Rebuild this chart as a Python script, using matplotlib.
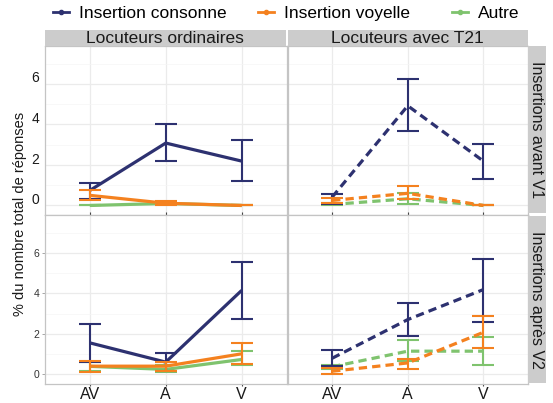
"""Insertions par position : locuteurs ordinaires vs locuteurs avec T21."""

import matplotlib

matplotlib.use("Agg")

import matplotlib.pyplot as plt  # noqa: E402
import matplotlib.transforms as mtransforms  # noqa: E402
from matplotlib.lines import Line2D  # noqa: E402

plt.rcParams["font.family"] = ["Liberation Sans", "DejaVu Sans"]

# --- data --------------------------------------------------------------
categories = ["AV", "A", "V"]
groups = ["Locuteurs ordinaires", "Locuteurs avec T21"]
rows = ["Insertions avant V1", "Insertions après V2"]
series = ["Insertion consonne", "Insertion voyelle", "Autre"]

# ordinaires / avant V1
ord_av_cons = [0.74, 3.08, 2.19]
ord_av_cons_lo = [0.33, 2.19, 1.20]
ord_av_cons_hi = [1.12, 4.00, 3.22]
ord_av_voy = [0.50, 0.11, 0.00]
ord_av_voy_lo = [0.25, 0.00, 0.00]
ord_av_voy_hi = [0.74, 0.22, 0.00]
ord_av_aut = [0.00, 0.10, 0.00]
ord_av_aut_lo = [0.00, 0.05, 0.00]
ord_av_aut_hi = [0.00, 0.15, 0.00]

# T21 / avant V1
t21_av_cons = [0.41, 4.92, 2.19]
t21_av_cons_lo = [0.08, 3.66, 1.32]
t21_av_cons_hi = [0.58, 6.22, 3.05]
t21_av_voy = [0.25, 0.60, 0.00]
t21_av_voy_lo = [0.10, 0.30, 0.00]
t21_av_voy_hi = [0.35, 0.95, 0.00]
t21_av_aut = [0.05, 0.33, 0.00]
t21_av_aut_lo = [0.00, 0.08, 0.00]
t21_av_aut_hi = [0.12, 0.64, 0.00]

# ordinaires / après V2
ord_ap_cons = [1.56, 0.61, 4.15]
ord_ap_cons_lo = [0.64, 0.15, 2.76]
ord_ap_cons_hi = [2.48, 1.07, 5.55]
ord_ap_voy = [0.41, 0.41, 1.02]
ord_ap_voy_lo = [0.11, 0.16, 0.54]
ord_ap_voy_hi = [0.66, 0.60, 1.53]
ord_ap_aut = [0.40, 0.25, 0.74]
ord_ap_aut_lo = [0.15, 0.10, 0.48]
ord_ap_aut_hi = [0.62, 0.45, 1.15]

# T21 / après V2
t21_ap_cons = [0.80, 2.71, 4.19]
t21_ap_cons_lo = [0.41, 1.92, 2.60]
t21_ap_cons_hi = [1.23, 3.53, 5.70]
t21_ap_voy = [0.16, 0.57, 2.08]
t21_ap_voy_lo = [0.02, 0.28, 1.31]
t21_ap_voy_hi = [0.30, 0.74, 2.87]
t21_ap_aut = [0.38, 1.15, 1.15]
t21_ap_aut_lo = [0.25, 0.66, 0.49]
t21_ap_aut_hi = [0.45, 1.69, 1.84]

panels = {
    (0, 0): [(ord_av_aut, ord_av_aut_lo, ord_av_aut_hi),
             (ord_av_cons, ord_av_cons_lo, ord_av_cons_hi),
             (ord_av_voy, ord_av_voy_lo, ord_av_voy_hi)],
    (0, 1): [(t21_av_aut, t21_av_aut_lo, t21_av_aut_hi),
             (t21_av_cons, t21_av_cons_lo, t21_av_cons_hi),
             (t21_av_voy, t21_av_voy_lo, t21_av_voy_hi)],
    (1, 0): [(ord_ap_aut, ord_ap_aut_lo, ord_ap_aut_hi),
             (ord_ap_cons, ord_ap_cons_lo, ord_ap_cons_hi),
             (ord_ap_voy, ord_ap_voy_lo, ord_ap_voy_hi)],
    (1, 1): [(t21_ap_aut, t21_ap_aut_lo, t21_ap_aut_hi),
             (t21_ap_cons, t21_ap_cons_lo, t21_ap_cons_hi),
             (t21_ap_voy, t21_ap_voy_lo, t21_ap_voy_hi)],
}

NAVY = "#2D3170"
ORANGE = "#F4811F"
GREEN = "#7FC36E"
draw_colors = [GREEN, NAVY, ORANGE]  # drawing order: autre, consonne, voyelle
legend_colors = [NAVY, ORANGE, GREEN]

W, H = 553, 403
fig = plt.figure(figsize=(W / 100, H / 100), dpi=100)


def px_axes(x0, y0, x1, y1, **kw):
    """Axes from pixel box (top-left origin)."""
    return fig.add_axes([x0 / W, 1 - y1 / H, (x1 - x0) / W, (y1 - y0) / H], **kw)


col_x = [(45, 286.5), (287.5, 528)]
row_y = [(46, 215), (215, 384)]
x = [1, 2, 3]

for (r, c), data in panels.items():
    ax = px_axes(col_x[c][0], row_y[r][0], col_x[c][1], row_y[r][1])
    ax.set_facecolor("white")
    ax.set_xlim(0.41, 3.59)
    ax.set_ylim(-0.47, 7.87)
    ax.set_yticks([0, 2, 4, 6])
    ax.set_yticks([1, 3, 5, 7], minor=True)
    ax.set_xticks(x)
    ax.grid(True, which="major", color="#EBEBEB", lw=0.9)
    ax.grid(True, which="minor", axis="y", color="#F5F5F5", lw=0.5)
    ax.set_axisbelow(True)
    for s in ax.spines.values():
        s.set_color("#C4C4C4")
        s.set_linewidth(0.9)

    ls = "-" if c == 0 else (0, (2.6, 1.6))
    for k, (mean, lo, hi) in enumerate(data):
        err = [[m - l for m, l in zip(mean, lo)], [h - m for m, h in zip(mean, hi)]]
        ax.plot(x, mean, color=draw_colors[k], lw=2.3, linestyle=ls,
                zorder=3 + k, solid_capstyle="butt", dash_capstyle="butt")
        ax.errorbar(x, mean, yerr=err, fmt="none", ecolor=draw_colors[k],
                    elinewidth=1.5, capsize=8, capthick=1.5, zorder=3 + k)

    if r == 1:
        ax.set_xticklabels(categories, fontsize=11.5, color="#1A1A1A")
        ax.tick_params(axis="x", length=1.5, width=0.8, color="#444444", pad=0.5)
    else:
        ax.set_xticklabels([])
        ax.tick_params(axis="x", length=2.5, width=0.8, color="#444444",
                       direction="in")

    if c == 0:
        if r == 0:
            ax.tick_params(axis="y", length=0, labelsize=10, pad=4,
                           labelcolor="#1A1A1A")
            shift = mtransforms.ScaledTranslation(0, 5 / 72, fig.dpi_scale_trans)
            for lab in ax.get_yticklabels():
                lab.set_transform(lab.get_transform() + shift)
        else:
            ax.tick_params(axis="y", length=2, width=0.6, color="#999999",
                           labelsize=7.5, pad=2, labelcolor="#333333")
    else:
        ax.set_yticklabels([])
        ax.tick_params(axis="y", length=0)
    ax.tick_params(axis="y", which="minor", length=0)

# strips
STRIP = "#CCCCCC"
for c, name in enumerate(groups):
    sx = px_axes(col_x[c][0], 30, col_x[c][1] - (1 if c == 0 else 0), 46)
    sx.set_facecolor(STRIP)
    sx.set_xticks([])
    sx.set_yticks([])
    for s in sx.spines.values():
        s.set_visible(False)
    sx.text(0.5, 0.45, name, ha="center", va="center", fontsize=12.5,
            color="#1A1A1A", transform=sx.transAxes)

for r, name in enumerate(rows):
    y0, y1 = row_y[r]
    sy = px_axes(528, y0 + (0 if r == 0 else 1), 546, y1 - (2 if r == 0 else 1))
    sy.set_facecolor(STRIP)
    sy.set_xticks([])
    sy.set_yticks([])
    for s in sy.spines.values():
        s.set_visible(False)
    sy.text(0.45, 0.5, name, ha="center", va="center", rotation=-90,
            fontsize=11.5, color="#1A1A1A", transform=sy.transAxes)

fig.text(20 / W, 1 - 214 / H, "% du nombre total de réponses", rotation=90,
         ha="center", va="center", fontsize=10.5, color="#1A1A1A")

# legend: one entry each, placed like the reference
legend_x = [53, 258, 452]
for name, col, lx in zip(series, legend_colors, legend_x):
    h = Line2D([], [], color=col, lw=2, marker="o", markersize=3)
    fig.legend([h], [name], loc="center left",
               bbox_to_anchor=(lx / W, 1 - 13 / H), frameon=False,
               fontsize=12.5, handlelength=0.9, handletextpad=0.6,
               borderpad=0, borderaxespad=0)

fig.savefig("out.png", dpi=100)
